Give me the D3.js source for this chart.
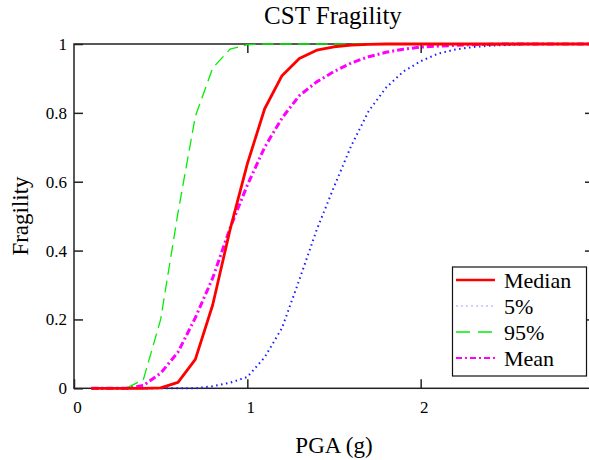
<!DOCTYPE html>
<html>
<head>
<meta charset="utf-8">
<script src="https://cdn.jsdelivr.net/npm/d3@7"></script>
<style>
  body { margin: 0; background: #fff; }
  text { font-family: "Liberation Serif", "Times New Roman", serif; fill: #000; }
</style>
</head>
<body>
<script>
// PGA grid (g)
var pga = [0.1,0.2,0.3,0.4,0.5,0.6,0.7,0.8,0.9,1.0,1.1,1.2,1.3,1.4,1.5,1.6,1.7,1.8,1.9,2.0,
           2.1,2.2,2.3,2.4,2.5,2.6,2.7,2.8,2.9,3.0];

var median = [0,0,0,0,0.001,0.017,0.084,0.242,0.46,0.652,0.812,0.908,0.958,0.982,0.992,0.997,0.999,1,1,1,
              1,1,1,1,1,1,1,1,1,1];
var p5 = [0,0,0,0,0,0,0,0.006,0.016,0.033,0.09,0.175,0.315,0.46,0.585,0.705,0.805,0.873,0.92,0.95,
          0.972,0.984,0.991,0.995,0.997,0.999,1,1,1,1];
var p95 = [0,0,0,0.025,0.2,0.51,0.79,0.93,0.985,0.998,1,1,1,1,1,1,1,1,1,1,
           1,1,1,1,1,1,1,1,1,1];
var mean = [0,0,0,0.008,0.044,0.105,0.205,0.32,0.465,0.59,0.7,0.785,0.85,0.89,0.92,0.945,0.963,0.976,0.985,0.991,
            0.994,0.996,0.998,0.999,1,1,1,1,1,1];

var xTicks = [0,1,2];
var yTicks = [0,0.2,0.4,0.6,0.8,1];

var series = [
  {name: "Median", values: median, color: "#ff0000", width: 2.8, dash: null,
   legendColor: "#ff0000", legendWidth: 2.6, legendDash: null},
  {name: "5%", values: p5, color: "#1a1aff", width: 2, dash: "1.5,3.5",
   legendColor: "#a0a0ff", legendWidth: 1, legendDash: "2,3"},
  {name: "95%", values: p95, color: "#00ee00", width: 1.3, dash: "12,6",
   legendColor: "#00ee00", legendWidth: 1.3, legendDash: "14,8"},
  {name: "Mean", values: mean, color: "#ff00ff", width: 3, dash: "7,3,2,3",
   legendColor: "#ff00ff", legendWidth: 2, legendDash: "6,3,2,3"}
];

var width = 589, height = 460;
var plotLeft = 74, plotRight = 594, plotTop = 44, plotBottom = 388.3;

var svg = d3.select("body").append("svg")
    .attr("width", width)
    .attr("height", height);

var x = d3.scaleLinear().domain([0, 3]).range([plotLeft, plotRight]);
var y = d3.scaleLinear().domain([0, 1]).range([plotBottom, plotTop]);

svg.append("defs").append("clipPath")
    .attr("id", "plot-clip")
  .append("rect")
    .attr("x", plotLeft).attr("y", plotTop - 3)
    .attr("width", plotRight - plotLeft).attr("height", plotBottom - plotTop + 6);

// frame and ticks
var axisColor = "#222";
svg.append("rect")
    .attr("x", plotLeft).attr("y", plotTop)
    .attr("width", plotRight - plotLeft).attr("height", plotBottom - plotTop)
    .attr("fill", "none")
    .attr("stroke", axisColor)
    .attr("stroke-width", 1.5);

var xAxis = svg.append("g")
    .attr("transform", "translate(0," + plotBottom + ")")
    .call(d3.axisBottom(x).tickValues(xTicks).tickSizeInner(-9).tickSizeOuter(0).tickPadding(13)
      .tickFormat(d3.format("d")));
var xAxisTop = svg.append("g")
    .attr("transform", "translate(0," + plotTop + ")")
    .call(d3.axisTop(x).tickValues(xTicks.slice(1)).tickSizeInner(-9).tickSizeOuter(0).tickFormat(""));
var yAxis = svg.append("g")
    .attr("transform", "translate(" + plotLeft + ",0)")
    .call(d3.axisLeft(y).tickValues(yTicks).tickSizeInner(-9).tickSizeOuter(0).tickPadding(7)
      .tickFormat(function(d){ return d === 0 || d === 1 ? d3.format("d")(d) : d3.format(".1f")(d); }));
var yAxisRight = svg.append("g")
    .attr("transform", "translate(" + plotRight + ",0)")
    .call(d3.axisRight(y).tickValues(yTicks.slice(1, 5)).tickSizeInner(-9).tickSizeOuter(0).tickFormat(""));

[xAxis, xAxisTop, yAxis, yAxisRight].forEach(function(g){
  g.attr("font-size", null).attr("font-family", null);
  g.select(".domain").remove();
  g.selectAll(".tick line").attr("stroke", axisColor).attr("stroke-width", 1.5);
  g.selectAll(".tick text").style("font-size", "17px");
});
xAxis.selectAll(".tick text").attr("dx", 3);
yAxis.selectAll(".tick text").attr("dy", "0.32em");

// curves
var line = d3.line()
    .x(function(d){ return x(d[0]); })
    .y(function(d){ return y(d[1]); });

svg.append("g")
    .attr("clip-path", "url(#plot-clip)")
  .selectAll("path")
    .data(series.slice().reverse())
  .enter().append("path")
    .attr("d", function(s){ return line(pga.map(function(p, i){ return [p, s.values[i]]; })); })
    .attr("fill", "none")
    .attr("stroke", function(s){ return s.color; })
    .attr("stroke-width", function(s){ return s.width; })
    .attr("stroke-dasharray", function(s){ return s.dash; })
    .attr("stroke-linejoin", "round");

// title and axis labels
svg.append("text")
    .attr("x", 333).attr("y", 24)
    .attr("text-anchor", "middle")
    .style("font-size", "25px")
    .text("CST Fragility");

svg.append("text")
    .attr("x", 334).attr("y", 453)
    .attr("text-anchor", "middle")
    .style("font-size", "23px")
    .text("PGA (g)");

svg.append("text")
    .attr("transform", "translate(28,216) rotate(-90)")
    .attr("text-anchor", "middle")
    .style("font-size", "23px")
    .text("Fragility");

// legend
var legend = svg.append("g");
legend.append("rect")
    .attr("x", 452.5).attr("y", 267)
    .attr("width", 134).attr("height", 109)
    .attr("fill", "#fff")
    .attr("stroke", "#111")
    .attr("stroke-width", 1.2);

var rows = legend.selectAll("g.row")
    .data(series)
  .enter().append("g")
    .attr("class", "row")
    .attr("transform", function(d, i){ return "translate(0," + (280 + i * 26) + ")"; });

rows.append("line")
    .attr("x1", 456).attr("x2", 495)
    .attr("y1", 0).attr("y2", 0)
    .attr("stroke", function(d){ return d.legendColor; })
    .attr("stroke-width", function(d){ return d.legendWidth; })
    .attr("stroke-dasharray", function(d){ return d.legendDash; });

rows.append("text")
    .attr("x", 504).attr("y", 0)
    .attr("dy", "0.35em")
    .style("font-size", "22px")
    .text(function(d){ return d.name; });
</script>
</body>
</html>
